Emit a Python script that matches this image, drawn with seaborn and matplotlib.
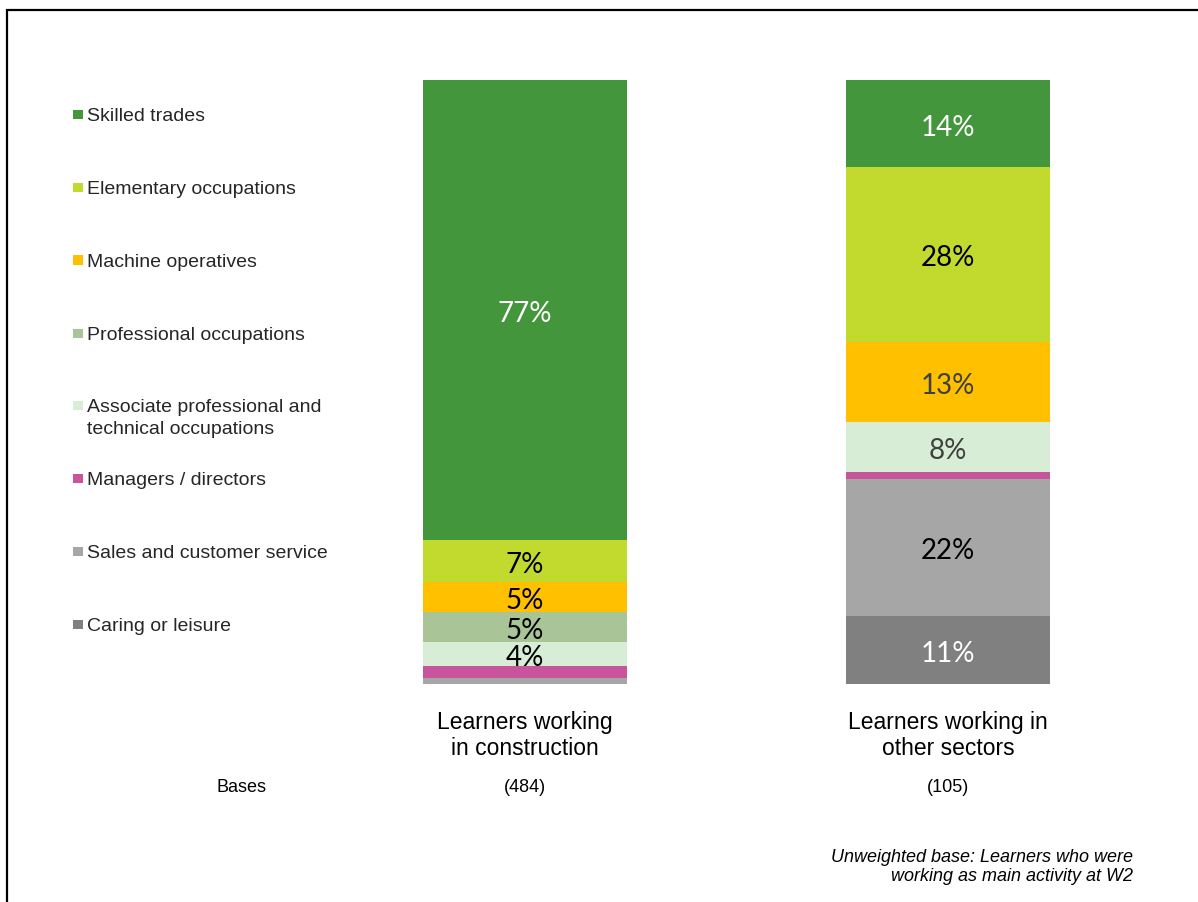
import numpy as np
import pandas as pd
import matplotlib
matplotlib.use("Agg")
import matplotlib.pyplot as plt
from matplotlib.patches import Rectangle
import seaborn as sns

# ---- data -------------------------------------------------------------
groups = ["Learners working\nin construction", "Learners working in\nother sectors"]
bases = ["(484)", "(105)"]
occupations = [
    "Skilled trades",
    "Elementary occupations",
    "Machine operatives",
    "Professional occupations",
    "Associate professional and\ntechnical occupations",
    "Managers / directors",
    "Sales and customer service",
    "Caring or leisure",
]
construction = [77, 7, 5, 5, 4, 2, 1, 0]
other_sectors = [14, 28, 13, 0, 8, 1, 22, 11]

# ---- styles -----------------------------------------------------------
palette = ["#43963C", "#C2D92E", "#FFC000", "#A9C496",
           "#D7EDD5", "#C8559C", "#A6A6A6", "#808080"]
label_colors = {
    (0, "Skilled trades"): "white",
    (1, "Skilled trades"): "white",
    (1, "Caring or leisure"): "white",
    (1, "Machine operatives"): "#404040",
    (1, "Associate professional and\ntechnical occupations"): "#404040",
}

W, H = 1198, 902
sns.set_theme(style="white")
plt.rcParams["font.family"] = ["Liberation Sans", "DejaVu Sans"]

df = pd.DataFrame({
    "group": np.repeat(groups, len(occupations)),
    "occupation": occupations * len(groups),
    "value": construction + other_sectors,
})
df["gi"] = np.repeat(np.arange(len(groups)), len(occupations))
# 100% stacked: shares of each bar's total, stacked from the bottom category up
df["share"] = df["value"] / df.groupby("group")["value"].transform("sum") * 100
df["order"] = df["occupation"].map({o: i for i, o in enumerate(occupations)})
df = df.sort_values(["gi", "order"], ascending=[True, False])
df["top"] = df.groupby("group")["share"].cumsum()


def fig_xy(x, y):
    return x / W, 1 - y / H


fig = plt.figure(figsize=(W / 100, H / 100), dpi=100)
left, bottom = fig_xy(313.5, 684)
ax = fig.add_axes([left, bottom, 846 / W, 604 / H])

# Draw the cumulative bars from the top segment downwards so each lower
# segment is painted over the one above it.
for occ, col in zip(occupations, palette):
    sub = df[df["occupation"] == occ]
    sns.barplot(data=sub, x="group", y="top", order=groups, color=col,
                width=0.482, saturation=1, errorbar=None, ax=ax,
                edgecolor="none", linewidth=0)

ax.set_xlim(-0.5, 1.5)
ax.set_ylim(0, 100)
ax.set_xlabel("")
ax.set_ylabel("")
ax.set_xticks([])
ax.set_yticks([])
for s in ax.spines.values():
    s.set_visible(False)

# segment value labels
for _, r in df.iterrows():
    if r["value"] >= 4:
        ax.annotate(f"{r['value']}%", (r["gi"], r["top"] - r["share"] / 2),
                    xytext=(0, -4), textcoords="offset pixels",
                    ha="center", va="center", fontsize=20, family="Lato",
                    color=label_colors.get((r["gi"], r["occupation"]), "black"))

# category labels and bases under the bars
trans = matplotlib.transforms.blended_transform_factory(ax.transData, fig.transFigure)
for i, (g, b) in enumerate(zip(groups, bases)):
    ax.text(i, fig_xy(0, 735.5)[1], g, transform=trans, ha="center", va="center",
            fontsize=16.5, color="black", linespacing=1.2)
    ax.text(i, fig_xy(0, 787)[1], b, transform=trans, ha="center", va="center",
            fontsize=13, color="black")
fig.text(*fig_xy(242, 787), "Bases", ha="center", va="center", fontsize=13, color="black")

# legend on the left
legend_y = [114, 187, 260, 333, 405, 478, 551, 624]
for occ, col, y in zip(occupations, palette, legend_y):
    sx, sy = fig_xy(73, y + 5)
    fig.add_artist(Rectangle((sx, sy), 9.5 / W, 9.5 / H, transform=fig.transFigure,
                             facecolor=col, edgecolor="none"))
    tx, ty = fig_xy(87, y - 6)
    fig.text(tx, ty, occ, ha="left", va="top", fontsize=14, color="#262626",
             linespacing=1.35)

# footnote
fig.text(*fig_xy(1133, 867),
         "Unweighted base: Learners who were\nworking as main activity at W2",
         ha="right", va="center", fontsize=13, style="italic", color="black",
         linespacing=1.2)

# outer frame
fx, fy = fig_xy(7, 10)
fig.add_artist(Rectangle((fx, -0.1), 1.2, fy + 0.1, transform=fig.transFigure,
                         fill=False, edgecolor="black", linewidth=1.6))

fig.savefig("out.png", dpi=100)
